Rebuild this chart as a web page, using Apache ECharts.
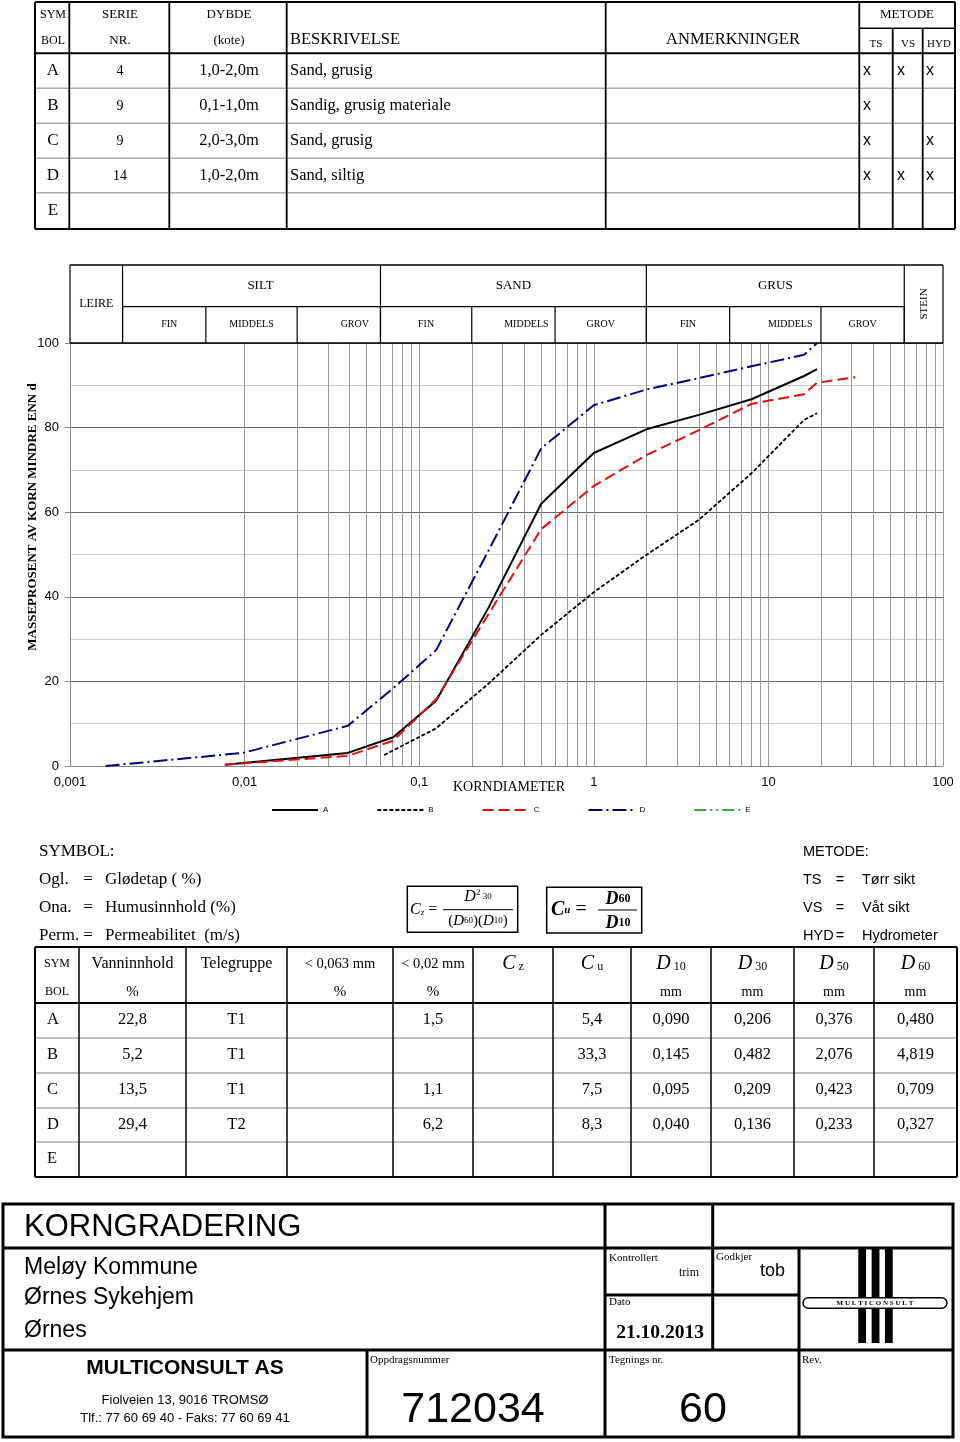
<!DOCTYPE html>
<html><head><meta charset="utf-8">
<script src="https://cdn.jsdelivr.net/npm/echarts/dist/echarts.min.js"></script>
<style>html,body{margin:0;padding:0;background:#fff}#c{width:960px;height:1442px}</style>
</head><body><div id="c"></div><script>
const SERIF = '"Liberation Serif","Times New Roman",serif';
const SANS = '"Liberation Sans",Arial,sans-serif';

// ---- Grading curves (grain size mm, % passing) ----
const sizeA = [0.0077, 0.039, 0.071, 0.125, 0.25, 0.5, 1, 2, 4, 8, 16, 19];
const passA = [0.3, 3.1, 6.8, 15.4, 37.5, 62, 74, 79.6, 83, 86.7, 92.2, 93.8];
const sizeB = [0.063, 0.125, 0.25, 0.5, 1, 2, 4, 8, 16, 19];
const passB = [2.6, 8.9, 19.5, 31, 41.1, 49.9, 58.2, 69.2, 81.8, 83.4];
const sizeC = [0.0077, 0.039, 0.071, 0.125, 0.25, 0.5, 1, 2, 4, 8, 16, 19, 31.5];
const passC = [0.3, 2.4, 6.0, 15.8, 36, 56, 66.2, 73.5, 79.4, 85.6, 87.9, 90.6, 91.9];
const sizeD = [0.0016, 0.0098, 0.039, 0.071, 0.125, 0.25, 0.5, 1, 2, 4, 8, 16, 19];
const passD = [0, 3.1, 9.5, 18.4, 27.4, 51, 75.1, 85.3, 89, 91.7, 94.5, 97.2, 100];

// ---- Soil fraction bands ----
const bandEdges = [0.001, 0.002, 0.06, 2, 60, 100];
const bandNames = ['LEIRE', 'SILT', 'SAND', 'GRUS', 'STEIN'];
const subEdges = [0.002, 0.006, 0.02, 0.06, 0.2, 0.6, 2, 6, 20, 60];
const subNames = ['FIN', 'MIDDELS', 'GROV', 'FIN', 'MIDDELS', 'GROV', 'FIN', 'MIDDELS', 'GROV'];

// ---- Top table ----
const symbols = ['A', 'B', 'C', 'D', 'E'];
const serieNr = ['4', '9', '9', '14', ''];
const depths = ['1,0-2,0m', '0,1-1,0m', '2,0-3,0m', '1,0-2,0m', ''];
const descriptions = ['Sand, grusig', 'Sandig, grusig materiale', 'Sand, grusig', 'Sand, siltig', ''];
const methodTS = ['x', 'x', 'x', 'x', ''];
const methodVS = ['x', '', '', 'x', ''];
const methodHYD = ['x', '', 'x', 'x', ''];

// ---- Bottom table ----
const water = ['22,8', '5,2', '13,5', '29,4', ''];
const telegroup = ['T1', 'T1', 'T1', 'T2', ''];
const finer063 = ['', '', '', '', ''];
const finer002 = ['1,5', '', '1,1', '6,2', ''];
const czVals = ['', '', '', '', ''];
const cuVals = ['5,4', '33,3', '7,5', '8,3', ''];
const d10 = ['0,090', '0,145', '0,095', '0,040', ''];
const d30 = ['0,206', '0,482', '0,209', '0,136', ''];
const d50 = ['0,376', '2,076', '0,423', '0,233', ''];
const d60 = ['0,480', '4,819', '0,709', '0,327', ''];

const chart = echarts.init(document.getElementById('c'), null, {renderer: 'canvas'});

const minorX = [];
for (let e = -3; e <= 1; e++) for (let k = 2; k <= 9; k++) minorX.push(+(k * Math.pow(10, e)).toPrecision(3));

function curve(name, xs, ys, color, type, width) {
  return {
    name, type: 'line', data: xs.map((x, i) => [x, ys[i]]), symbol: 'none', showSymbol: false,
    lineStyle: {color, type, width}, itemStyle: {color}, z: 5, animation: false, silent: true
  };
}

chart.setOption({
  animation: false,
  grid: {left: 70, right: 17, top: 343, bottom: 676},
  xAxis: {
    type: 'log', logBase: 10, min: 0.001, max: 100,
    axisLine: {show: true, lineStyle: {color: '#888'}},
    axisTick: {show: false},
    axisLabel: {formatter: v => String(v).replace('.', ','), fontFamily: SANS, fontSize: 13, color: '#000', margin: 10},
    splitLine: {show: true, lineStyle: {color: '#999', width: 1}}
  },
  yAxis: {
    type: 'value', min: 0, max: 100, interval: 20,
    axisLine: {show: true, lineStyle: {color: '#888'}},
    axisTick: {show: true, length: 5, lineStyle: {color: '#888'}},
    axisLabel: {fontFamily: SANS, fontSize: 13, color: '#000', margin: 11},
    splitLine: {show: true, lineStyle: {color: '#666', width: 1}},
    minorTick: {show: false, splitNumber: 2},
    minorSplitLine: {show: true, lineStyle: {color: '#ccc', width: 1}}
  },
  legend: {
    data: ['A', 'B', 'C', 'D', 'E'], left: 271, top: 806, itemWidth: 46, itemHeight: 10, itemGap: 48,
    padding: 0, selectedMode: false, itemStyle: {opacity: 0, borderWidth: 0},
    textStyle: {fontFamily: SANS, fontSize: 8, color: '#000'}
  },
  series: [
    {name: '_grid', type: 'line', data: [], z: 1, silent: true, animation: false,
      markLine: {silent: true, animation: false, symbol: ['none', 'none'], label: {show: false},
        lineStyle: {color: '#999', width: 1, type: 'solid'}, data: minorX.map(v => ({xAxis: v}))}},
    curve('A', sizeA, passA, '#000', 'solid', 2),
    curve('B', sizeB, passB, '#000', [4, 2], 1.8),
    curve('C', sizeC, passC, '#e01010', [11, 5], 2),
    curve('D', sizeD, passD, '#000080', [14, 4, 2, 4], 2),
    {name: 'E', type: 'line', data: [], symbol: 'none', lineStyle: {color: '#3fa43f', type: [12, 4, 2, 4, 2, 4], width: 2}, itemStyle: {color: '#3fa43f'}}
  ]
});

// ---------- graphic helpers ----------
const G = [];
function L(x1, y1, x2, y2, w, c) {
  G.push({type: 'line', silent: true, z: 20, shape: {x1, y1, x2, y2}, style: {stroke: c || '#000', lineWidth: w || 1}});
}
function R(x, y, w, h, opt) {
  opt = opt || {};
  G.push({type: 'rect', silent: true, z: opt.z || 20, shape: {x, y, width: w, height: h, r: opt.r || 0},
    style: {fill: opt.fill || 'none', stroke: opt.stroke || '#000', lineWidth: opt.lw || 1}});
}
function T(x, y, text, size, opt) {
  opt = opt || {};
  const al = opt.align || 'left';
  G.push({type: 'text', silent: true, z: 30, x, y, rotation: opt.rot || 0,
    style: {text, fontSize: size, fontFamily: opt.ff || SERIF, fontWeight: opt.fw || 'normal',
      fontStyle: opt.fs || 'normal', fill: opt.fill || '#000', textAlign: al, textVerticalAlign: 'middle',
      rich: opt.rich}});
}

// ---------- header band above plot ----------
const px = v => chart.convertToPixel({xAxisIndex: 0}, v);
const hTop = 265, hMid = 306.7, hBot = 343;
L(px(0.001), hTop, px(100), hTop, 1.5);
L(px(0.001), hBot, px(100), hBot, 1.5);
L(px(0.002), hMid, px(60), hMid, 1.2);
bandEdges.forEach(v => L(px(v), hTop, px(v), hBot, 1.2));
subEdges.forEach(v => L(px(v), hMid, px(v), hBot, 1.2));
const bandShift = [0, 9, 0, 0, 0];
bandNames.forEach((n, i) => {
  const cx = (px(bandEdges[i]) + px(bandEdges[i + 1])) / 2 + bandShift[i];
  if (n === 'STEIN') T(cx, (hTop + hBot) / 2, n, 11, {align: 'center', rot: Math.PI / 2});
  else if (n === 'LEIRE') T(cx, (hTop + hBot) / 2, n, 12, {align: 'center'});
  else T(cx, (hTop + hMid) / 2, n, 13, {align: 'center'});
});
const subShift = [5, 0, 16, 0, 13, 0, 0, 15, 0];
subNames.forEach((n, i) => {
  const cx = (px(subEdges[i]) + px(subEdges[i + 1])) / 2 + subShift[i];
  T(cx, (hMid + hBot) / 2, n, 10, {align: 'center'});
});
T(33, 517, 'MASSEPROSENT AV KORN MINDRE ENN d', 13, {align: 'center', fw: 'bold', rot: Math.PI / 2});
T(509, 787, 'KORNDIAMETER', 14, {align: 'center'});

// ---------- top table ----------
(function () {
  const cols = [35, 69.3, 169.3, 286.7, 605.7, 859.3, 892.7, 922.7, 955];
  const y0 = 2, y1 = 229, yh = 53.3, rows = [88.3, 123.3, 158.3, 192.7];
  rows.forEach(y => L(cols[0], y, cols[8], y, 1.5, '#aaa'));
  L(cols[0], yh, cols[8], yh, 2);
  L(859.3, 28.3, 955, 28.3, 1.5);
  cols.forEach((x, i) => {
    const ys = (i === 6 || i === 7) ? 28.3 : y0;
    L(x, ys, x, y1, (i === 0 || i === 8) ? 2 : 1.8);
  });
  L(cols[0], y0, cols[8], y0, 2);
  L(cols[0], y1, cols[8], y1, 2);
  T(53, 15, 'SYM', 12, {align: 'center'}); T(53, 41, 'BOL', 12, {align: 'center'});
  T(120, 15, 'SERIE', 13, {align: 'center'}); T(120, 41, 'NR.', 13, {align: 'center'});
  T(229, 15, 'DYBDE', 13, {align: 'center'}); T(229, 41, '(kote)', 13, {align: 'center'});
  T(290, 40, 'BESKRIVELSE', 16.5);
  T(733, 40, 'ANMERKNINGER', 16.5, {align: 'center'});
  T(907, 15, 'METODE', 13, {align: 'center'});
  T(876, 44, 'TS', 11, {align: 'center'}); T(908, 44, 'VS', 11, {align: 'center'}); T(939, 44, 'HYD', 11, {align: 'center'});
  const yc = [71, 106, 141, 176, 211];
  symbols.forEach((s, i) => {
    T(53, yc[i], s, 17, {align: 'center'});
    T(120, yc[i], serieNr[i], 14, {align: 'center'});
    T(229, yc[i], depths[i], 16.5, {align: 'center'});
    T(290, yc[i], descriptions[i], 16.5);
    T(867, yc[i], methodTS[i], 16, {ff: SANS, align: 'center'});
    T(901, yc[i], methodVS[i], 16, {ff: SANS, align: 'center'});
    T(930, yc[i], methodHYD[i], 16, {ff: SANS, align: 'center'});
  });
})();

// ---------- symbol / method legend & formulas ----------
T(39, 852, 'SYMBOL:', 17);
T(39, 880, 'Ogl.', 17); T(88, 880, '=', 17, {align: 'center'}); T(105, 880, 'Glødetap ( %)', 17);
T(39, 908, 'Ona.', 17); T(88, 908, '=', 17, {align: 'center'}); T(105, 908, 'Humusinnhold (%)', 17);
T(39, 936, 'Perm.', 17); T(88, 936, '=', 17, {align: 'center'}); T(105, 936, 'Permeabilitet  (m/s)', 17);
T(803, 852, 'METODE:', 14.5, {ff: SANS});
T(803, 880, 'TS', 14.5, {ff: SANS}); T(840, 880, '=', 14.5, {ff: SANS, align: 'center'}); T(862, 880, 'Tørr sikt', 14.5, {ff: SANS});
T(803, 908, 'VS', 14.5, {ff: SANS}); T(840, 908, '=', 14.5, {ff: SANS, align: 'center'}); T(862, 908, 'Våt sikt', 14.5, {ff: SANS});
T(803, 936, 'HYD', 14.5, {ff: SANS}); T(840, 936, '=', 14.5, {ff: SANS, align: 'center'}); T(862, 936, 'Hydrometer', 14.5, {ff: SANS});

R(407.3, 886.3, 110.4, 46, {lw: 1.5});
T(410, 910, '{c|C}{s|z} {e|=}', 16, {rich: {c: {fontFamily: SERIF, fontStyle: 'italic', fontSize: 16}, s: {fontFamily: SERIF, fontStyle: 'italic', fontSize: 9, padding: [6, 0, 0, 0]}, e: {fontFamily: SERIF, fontSize: 16}}});
L(443, 909.7, 513, 909.7, 1);
T(478, 897, '{d|D}{p|2}{s| 30}', 16, {align: 'center', rich: {d: {fontFamily: SERIF, fontStyle: 'italic', fontSize: 16}, p: {fontFamily: SERIF, fontSize: 9, padding: [0, 0, 9, 0]}, s: {fontFamily: SERIF, fontSize: 9}}});
T(478, 921, '{a|(}{d|D}{s|60}{a|)(}{d|D}{s|10}{a|)}', 15, {align: 'center', rich: {a: {fontFamily: SERIF, fontSize: 15}, d: {fontFamily: SERIF, fontStyle: 'italic', fontSize: 15}, s: {fontFamily: SERIF, fontSize: 9}}});

R(546.7, 887.3, 95, 45.7, {lw: 1.5});
T(551, 910, '{c|C}{s|u} {e|=}', 20, {rich: {c: {fontFamily: SERIF, fontStyle: 'italic', fontWeight: 'bold', fontSize: 20}, s: {fontFamily: SERIF, fontStyle: 'italic', fontWeight: 'bold', fontSize: 11}, e: {fontFamily: SERIF, fontSize: 20}}});
L(598, 910, 637, 910, 1.2);
T(618, 899, '{d|D}{s|60}', 18, {align: 'center', rich: {d: {fontFamily: SERIF, fontStyle: 'italic', fontWeight: 'bold', fontSize: 18}, s: {fontFamily: SERIF, fontWeight: 'bold', fontSize: 12}}});
T(618, 923, '{d|D}{s|10}', 18, {align: 'center', rich: {d: {fontFamily: SERIF, fontStyle: 'italic', fontWeight: 'bold', fontSize: 18}, s: {fontFamily: SERIF, fontWeight: 'bold', fontSize: 12}}});

// ---------- bottom table ----------
(function () {
  const cols = [35, 79, 186, 287, 393, 473, 553, 631, 711, 794, 874, 957];
  const y0 = 947, yh = 1003, rows = [1038, 1073, 1108, 1142], y1 = 1177;
  rows.forEach(y => L(cols[0], y, cols[11], y, 1.5, '#aaa'));
  L(cols[0], yh, cols[11], yh, 1.8);
  L(cols[0], y0, cols[11], y0, 2);
  L(cols[0], y1, cols[11], y1, 2);
  cols.forEach((x, i) => L(x, y0, x, y1, (i === 0 || i === 11) ? 2 : 1.5));
  const c = i => (cols[i] + cols[i + 1]) / 2;
  const h1 = 964, h2 = 992;
  T(c(0), h1, 'SYM', 12, {align: 'center'}); T(c(0), h2, 'BOL', 12, {align: 'center'});
  T(c(1), h1, 'Vanninnhold', 16, {align: 'center'}); T(c(1), h2, '%', 15, {align: 'center'});
  T(c(2), h1, 'Telegruppe', 16, {align: 'center'});
  T(c(3), h1, '< 0,063 mm', 14.5, {align: 'center'}); T(c(3), h2, '%', 15, {align: 'center'});
  T(c(4), h1, '< 0,02 mm', 14.5, {align: 'center'}); T(c(4), h2, '%', 15, {align: 'center'});
  const sub = (a, b) => '{c|' + a + '}{s| ' + b + '}';
  const rich = {c: {fontFamily: SERIF, fontStyle: 'italic', fontSize: 20}, s: {fontFamily: SERIF, fontSize: 12, padding: [6, 0, 0, 0]}};
  T(c(5), h1, sub('C', 'z'), 20, {align: 'center', rich});
  T(c(6), h1, sub('C', 'u'), 20, {align: 'center', rich});
  T(c(7), h1, sub('D', '10'), 20, {align: 'center', rich});
  T(c(8), h1, sub('D', '30'), 20, {align: 'center', rich});
  T(c(9), h1, sub('D', '50'), 20, {align: 'center', rich});
  T(c(10), h1, sub('D', '60'), 20, {align: 'center', rich});
  [7, 8, 9, 10].forEach(i => T(c(i), h2, 'mm', 14, {align: 'center'}));
  const yc = [1020, 1055, 1090, 1125, 1159];
  const colsData = [water, telegroup, finer063, finer002, czVals, cuVals, d10, d30, d50, d60];
  symbols.forEach((s, r) => {
    T(47, yc[r], s, 16.5);
    colsData.forEach((arr, j) => T(c(j + 1), yc[r], arr[r], 16.5, {align: 'center'}));
  });
})();

// ---------- title block ----------
(function () {
  const W = 3;
  R(3, 1204, 950, 233, {lw: W});
  L(3, 1248, 953, 1248, W);
  L(3, 1350, 953, 1350, W);
  L(605, 1204, 605, 1437, W);
  L(712.7, 1204, 712.7, 1350, W);
  L(799, 1248, 799, 1437, W);
  L(605, 1295, 799, 1295, W);
  L(367, 1350, 367, 1437, W);
  T(24, 1227, 'KORNGRADERING', 31, {ff: SANS});
  T(24, 1268, 'Meløy Kommune', 23, {ff: SANS});
  T(24, 1298, 'Ørnes Sykehjem', 23, {ff: SANS});
  T(24, 1331, 'Ørnes', 23, {ff: SANS});
  T(185, 1368, 'MULTICONSULT AS', 21, {ff: SANS, fw: 'bold', align: 'center'});
  T(185, 1400, 'Fiolveien 13, 9016 TROMSØ', 13, {ff: SANS, align: 'center'});
  T(185, 1418, 'Tlf.: 77 60 69 40 - Faks: 77 60 69 41', 13, {ff: SANS, align: 'center'});
  T(370, 1360, 'Oppdragsnummer', 11);
  T(473, 1410, '712034', 43, {ff: SANS, align: 'center'});
  T(609, 1258, 'Kontrollert', 11);
  T(699, 1273, 'trim', 12, {align: 'right'});
  T(716, 1257, 'Godkjer', 11);
  T(760, 1271, 'tob', 18, {ff: SANS});
  T(609, 1302, 'Dato', 11);
  T(660, 1333, '21.10.2013', 19.5, {fw: 'bold', align: 'center'});
  T(609, 1360, 'Tegnings nr.', 11);
  T(703, 1410, '60', 43, {ff: SANS, align: 'center'});
  T(802, 1360, 'Rev.', 11);
  // logo
  [858.3, 871.7, 885].forEach(x => R(x, 1248, 7.7, 95, {fill: '#000', stroke: '#000', lw: 0.1}));
  R(803, 1297.7, 144, 10.6, {r: 5.3, fill: '#fff', stroke: '#000', lw: 1.5, z: 25});
  T(875, 1303, 'M U L T I C O N S U L T', 7, {fw: 'bold', align: 'center'});
})();

chart.setOption({graphic: {elements: G}});
</script></body></html>
